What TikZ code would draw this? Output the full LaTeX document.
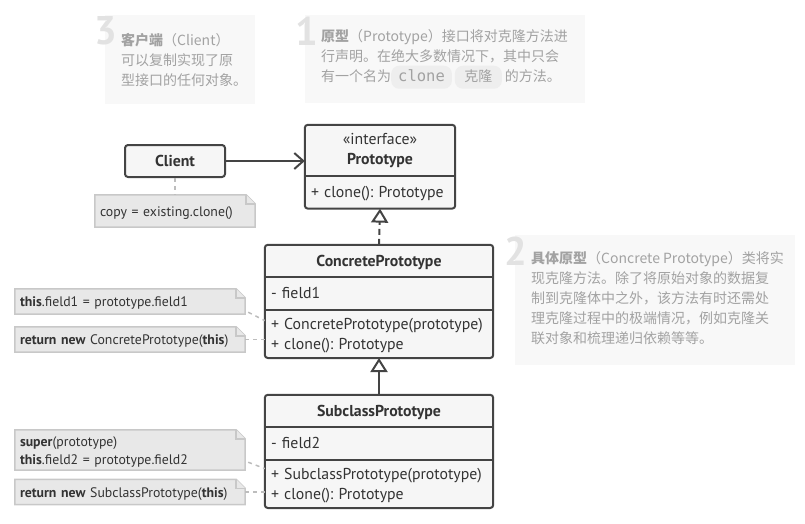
\documentclass[tikz,border=0pt]{standalone}
\usepackage{fontspec}
\setmainfont{PT Sans}
\newfontfamily\cjk{Noto Sans CJK SC}
\newfontfamily\codefont{DejaVu Sans Mono}
\usetikzlibrary{arrows.meta,positioning,calc,backgrounds}
\frenchspacing

\definecolor{lineclr}{HTML}{444444}
\definecolor{boxfill}{HTML}{F6F6F6}
\definecolor{textclr}{HTML}{333333}
\definecolor{notefill}{HTML}{E8E8E8}
\definecolor{noteline}{HTML}{C8C8C8}
\definecolor{linkclr}{HTML}{BDBDBD}
\definecolor{infofill}{HTML}{F8F8F8}
\definecolor{infotext}{HTML}{A2A2A2}
\definecolor{numclr}{HTML}{E2E2E2}
\definecolor{codefill}{HTML}{EEEEEE}

\newcommand{\codebg}[1]{\tikz[baseline=(cb.base)]\node[fill=codefill, rounded corners=8pt, minimum width=0pt, minimum height=0pt, inner xsep=7pt, inner ysep=4.5pt, text height=11pt, text depth=3pt] (cb) {#1};}

\begin{document}
\begin{tikzpicture}[x=1pt, y=-1pt,
    font=\fontsize{15.8}{20}\selectfont, text=textclr,
    classhead/.style={minimum width=228pt, minimum height=32pt, inner sep=0pt, text height=11pt, text depth=0pt, font=\fontsize{15.8}{20}\selectfont\bfseries},
    classpart/.style={minimum height=32pt, inner xsep=6pt, inner ysep=0pt, text width=216pt, text height=11pt, text depth=0pt, align=left},
    classframe/.style={draw=lineclr, fill=boxfill, line width=2pt, rounded corners=3pt},
    classline/.style={draw=lineclr, line width=2pt},
    notebox/.style={inner xsep=5pt, inner ysep=0pt, text width=220pt, minimum height=25pt, text height=10pt, text depth=0pt, align=left, font=\fontsize{13.8}{18}\selectfont},
    noteframe/.style={draw=noteline, fill=notefill, line width=1.5pt},
    notelink/.style={draw=linkclr, line width=1.5pt, dash pattern=on 4pt off 4pt},
    infobox/.style={fill=infofill},
    info/.style={anchor=west, inner sep=0pt, align=left, text=infotext, font=\cjk\fontsize{14}{20}\selectfont},
    infonum/.style={text=numclr, inner sep=0pt, font=\fontsize{40}{40}\selectfont\bfseries},
    uses/.style={draw=lineclr, line width=2pt, -{Straight Barb[length=9pt, width=16pt]}},
    implements/.style={draw=lineclr, line width=2pt, dash pattern=on 6pt off 4pt, -{Triangle[open, length=14pt, width=17pt]}},
    extends/.style={draw=lineclr, line width=2pt, -{Triangle[open, length=14pt, width=17pt]}}]
    \useasboundingbox (0,0) rectangle (805,523);

    % Notes on the side
    \fill[infobox] (105,15) rectangle (255,104);
    \fill[infobox] (305,15) rectangle (585,103);
    \fill[infobox] (515,235) rectangle (795,365);
    \node[info] (clientinfo) at (121,59.5)
        {\textbf{客户端}（Client）\\可以复制实现了原\\型接口的任何对象。};
    \node[info] (protoinfo) at (321,59)
        {\textbf{原型}（Prototype）接口将对克隆方法进\\行声明。在绝大多数情况下，其中只会\\有一个名为\codebg{\codefont\fontsize{15.5}{20}\selectfont clone}\hspace{3pt}\codebg{\hspace{2.5pt}克隆\hspace{2.5pt}}\hspace{3pt}的方法。};
    \node[info] (concreteinfo) at (531,298)
        {\textbf{具体原型}（Concrete Prototype）类将实\\现克隆方法。除了将原始对象的数据复\\制到克隆体中之外，该方法有时还需处\\理克隆过程中的极端情况，例如克隆关\\联对象和梳理递归依赖等等。};
    \node[infonum] (numclient) at (106,31) {3};
    \node[infonum] (numproto) at (307,31) {1};
    \node[infonum] (numconcrete) at (516,251) {2};

    % Nodes
    \node[classframe, minimum width=100pt, minimum height=32pt, text height=11pt, text depth=0pt, font=\fontsize{15.8}{20}\selectfont\bfseries] (client) at (175,161) {Client};
    \node[classhead, minimum width=150pt, minimum height=51pt, text height=31pt, text depth=3pt, align=center, font=\fontsize{15.8}{20}\selectfont] (prototype) at (380,150.5) {«interface»\\\textbf{Prototype}};
    \node[classpart, below=0pt of prototype, text width=138pt] (protomethods) {+ clone(): Prototype};

    \node[classhead] (concrete) at (379,261) {ConcretePrototype};
    \node[classpart, below=0pt of concrete] (concretefields) {- field1};
    \node[classpart, below=0pt of concretefields, minimum height=48pt, text depth=20pt] (concretemethods) {+ ConcretePrototype(prototype)\\+ clone(): Prototype};

    \node[classhead] (subclass) at (379,411) {SubclassPrototype};
    \node[classpart, below=0pt of subclass] (subclassfields) {- field2};
    \node[classpart, below=0pt of subclassfields, minimum height=48pt, text depth=20pt] (subclassmethods) {+ SubclassPrototype(prototype)\\+ clone(): Prototype};

    % Code notes
    \node[notebox, text width=150pt, minimum height=32pt] (copynote) at (175,211) {copy = existing.clone()};
    \node[notebox] (fieldnote) at (130,301.5) {\textbf{this}.field1 = prototype.field1};
    \node[notebox] (clonenote) at (130,339.5) {\textbf{return new} ConcretePrototype(\textbf{this})};
    \node[notebox, minimum height=40pt, text depth=18pt] (supernote) at (130,450) {\textbf{super}(prototype)\\\textbf{this}.field2 = prototype.field2};
    \node[notebox] (returnnote) at (130,492) {\textbf{return new} SubclassPrototype(\textbf{this})};

    \begin{scope}[on background layer]
        \foreach \hd/\ft in {prototype/protomethods, concrete/concretemethods, subclass/subclassmethods}
            \draw[classframe] (\hd.north west) rectangle (\ft.south east);
        \foreach \n in {copynote, fieldnote, clonenote, supernote, returnnote} {
            \draw[noteframe] (\n.north west) -- ([xshift=-9pt]\n.north east) -- ([yshift=-9pt]\n.north east) -- (\n.south east) -- (\n.south west) -- cycle;
            \draw[noteframe] ([xshift=-9pt]\n.north east) -- ([xshift=-9pt, yshift=-9pt]\n.north east) -- ([yshift=-9pt]\n.north east);
        }
    \end{scope}
    \foreach \n in {prototype, concrete, concretefields, subclass, subclassfields}
        \draw[classline] (\n.south west) -- (\n.south east);

    % Connections
    \draw[uses] (client.east) -- (client.east -| prototype.west);
    \draw[implements] (concrete.north) -- (protomethods.south);
    \draw[extends] (subclass.north) -- (concretemethods.south);
    \draw[notelink] (client.south) -- (copynote.north);
    \draw[notelink] ([xshift=3pt, yshift=2pt]fieldnote.south east) -- ([yshift=-11pt]concretemethods.north west);
    \draw[notelink] (clonenote.east) -- (clonenote.east -| concretemethods.west);
    \draw[notelink] ([xshift=3pt, yshift=8pt]supernote.south east) -- ([yshift=-9pt]subclassmethods.north west);
    \draw[notelink] (returnnote.east) -- (returnnote.east -| subclassmethods.west);
\end{tikzpicture}
\end{document}
